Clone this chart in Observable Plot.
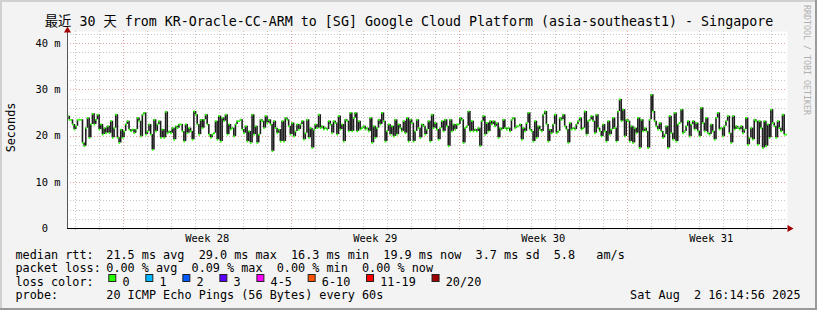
<!DOCTYPE html>
<html><head><meta charset="utf-8">
<script src="https://cdn.jsdelivr.net/npm/d3@7"></script>
<script src="https://cdn.jsdelivr.net/npm/@observablehq/plot@0.6"></script>
<style>
html,body{margin:0;padding:0;background:#f3f3f3;}
#wrap{position:relative;width:817px;height:310px;background:#f3f3f3;overflow:hidden;}
#wrap svg{position:absolute;left:0;top:0;}
.b{position:absolute;}
</style></head>
<body><div id="wrap"></div>
<script>
// ---- data ----
const titleText = "最近 30 天 from KR-Oracle-CC-ARM to [SG] Google Cloud Platform (asia-southeast1) - Singapore";
const startTime = Date.UTC(2025, 6, 3, 16, 14, 56);
const endTime = Date.UTC(2025, 7, 2, 16, 14, 56);
const weekLabels = ["Week 28", "Week 29", "Week 30", "Week 31"];
const weekStartDays = ["2025-07-06", "2025-07-13", "2025-07-20", "2025-07-27"];
const yTicks = [0, 10, 20, 30, 40];
const yTickLabels = ["0\u00a0\u00a0", "10 m", "20 m", "30 m", "40 m"];
// median rtt (ms), in time order, one value per ~1.7 px column
const seg1 = [24.3,23.5,23.5,22.5,21.4,22.1,23.5,23.5,23.5,18.5,17.8,21.7,23.9,19.6,22.5,24.8,22.5,23.5,24.6,21.4,22.5,20.3,21.7,20.6,22.1,20.6,23.2,19.6,21.7,24.6,19.6,18.5,21.4,19.6,21.0,22.5,23.2,21.4,21.0,21.4,20.6,21.4,23.9,23.2,19.9,24.6,25.0,20.3,21.0,22.5,20.3,17.0,23.5,21.0,22.5,23.2,19.6,21.4,19.6,25.2,20.6,21.0,20.6,21.7,19.2,22.1,21.7,22.5,22.5,21.0,18.8,22.5,20.6,21.7,21.0,19.2,25.3,24.6,22.5,20.3,23.5,21.7,23.5,24.6,22.5,20.3,19.6,20.3];
const seg2 = [20.6,23.2,19.2,24.3,18.8,23.9,23.2,24.6,20.3,22.5,21.4,21.7,19.9,22.5,23.2,23.2,23.5,21.4,20.6,22.1,18.8,21.0,18.5,24.6,20.3,22.1,18.5,20.3,23.5,23.2,21.7,24.3,22.8,23.5,22.5,16.7,23.2,21.7,20.6,21.4,18.8,23.2,18.8,23.9,23.5,22.1,20.3,22.8,19.9,21.0,22.5,21.4,22.5,23.2,19.2,20.6,23.5,19.6,21.7,17.4,21.4,22.5,21.7,24.6,21.7,22.1,21.4,21.7,21.4,23.2,22.5,20.6,23.2,22.8,20.3,24.3,21.4,22.5,18.8,23.5,23.2,21.0,25.0,21.0,23.9,25.0];
const seg3 = [21.0,23.2,21.4,21.7,22.1,21.4,21.7,21.0,23.9,18.5,22.1,19.6,21.7,23.5,22.5,25.0,23.2,18.8,21.0,22.5,20.3,22.1,19.9,23.5,20.3,22.5,21.7,21.0,23.2,20.6,23.9,18.8,23.5,22.8,18.8,21.0,23.5,21.7,19.6,22.5,22.1,20.3,21.4,23.2,18.8,24.6,21.7,22.8,21.4,19.2,21.7,23.2,21.0,23.5,22.1,17.8,23.5,21.0,22.5,21.4,22.5,22.5,23.9,23.5,18.5,21.7,22.1,25.3,21.0,23.2,21.0,21.4,21.0,21.7,17.8,23.2,24.3,20.3,22.8,21.0,23.2,22.5,23.2,22.1,22.8,19.6,21.7];
const seg4 = [21.4,23.5,21.7,21.4,21.7,21.0,23.5,23.9,21.7,22.1,22.1,22.5,19.2,21.7,21.0,22.8,25.0,21.4,21.0,18.8,23.2,19.6,22.1,21.4,21.0,24.6,25.3,22.5,18.8,21.4,20.6,22.5,24.6,20.6,21.0,23.9,23.5,24.6,22.1,21.4,18.5,22.8,21.4,21.7,21.4,22.5,23.2,23.9,21.4,21.7,25.3,20.3,23.2,23.5,24.3,23.2,20.6,24.6,21.7,21.0,19.9,22.5,21.0,18.8,23.2,20.3,21.4,23.9,21.7,18.8,25.3,27.9,23.2,25.7,19.9,23.5,23.2,18.8,22.1,18.5,21.7,20.6,23.9,17.4,23.5,21.0];
const seg5 = [21.7,21.0,17.4,23.5,28.9,25.3,23.2,22.1,21.4,22.8,21.0,19.6,20.3,22.1,17.4,24.3,20.6,19.2,25.0,18.8,22.5,22.8,25.7,20.6,21.0,22.1,23.2,19.9,22.5,23.2,21.4,22.8,21.0,19.9,26.1,22.8,21.0,23.9,20.6,20.3,22.5,21.0,19.2,23.9,25.0,21.4,21.7,19.9,22.1,23.2,24.3,20.6,18.5,24.3,21.4,22.1,21.7,21.4,22.1,20.6,21.4,23.9,18.1,19.6,21.7,19.2,23.5,23.2,18.1,23.2,21.7,17.4,23.2,17.8,22.5,19.6,25.7,22.8,22.1,19.6,23.2,21.7,21.0,24.6,20.3,20.3];
const rttLine = "21.5 ms avg  29.0 ms max  16.3 ms min  19.9 ms now  3.7 ms sd  5.8   am/s";
const lossLine = "0.00 % avg  0.09 % max  0.00 % min  0.00 % now";
const lossLabels = ["0", "1", "2", "3", "4-5", "6-10", "11-19", "20/20"];
const lossColors = ["#26ff00", "#00b8ff", "#0059ff", "#5e00ff", "#ff00ff", "#ff5500", "#ff0000", "#a10000"];
const probeText = "20 ICMP Echo Pings (56 Bytes) every 60s";
const dateText = "Sat Aug  2 16:14:56 2025";
const watermark = "RRDTOOL / TOBI OETIKER";

// ---- build ----
const start = new Date(startTime), end = new Date(endTime);
const medianMs = [...seg1, ...seg2, ...seg3, ...seg4, ...seg5];
const N = medianMs.length;
const step = (endTime - startTime) / N;
const pts = medianMs.map((v, i) => ({
  t0: new Date(startTime + i * step), t1: new Date(startTime + (i + 1) * step),
  v, prev: i ? medianMs[i - 1] : v
}));
const weekStarts = weekStartDays.map(d => new Date(d + "T00:00:00Z"));
const weekCenters = weekStarts.map(d => new Date(+d + 3.5 * 864e5));
const weekLabelMap = new Map(weekCenters.map((d, i) => [+d, weekLabels[i]]));
const yLabelMap = new Map(yTicks.map((d, i) => [d, yTickLabels[i]]));
const allDays = d3.utcDay.range(start, end);
const dayLines = allDays.filter(d => d.getUTCDay() !== 0);
const yMax = 42.6;
const minorY = d3.range(2, yMax, 2).filter(d => d % 10 !== 0);
const majorY = [10, 20, 30, 40];
const grid = {strokeDasharray: "1,2", shapeRendering: "crispEdges"};

const chart = Plot.plot({
  width: 817, height: 310,
  marginLeft: 67, marginRight: 30, marginTop: 31, marginBottom: 82,
  style: {background: "transparent", fontFamily: "'DejaVu Sans Mono', monospace", fontSize: "10.4px", color: "#000", overflow: "visible"},
  x: {type: "utc", domain: [start, end]},
  y: {domain: [0, yMax]},
  marks: [
    Plot.frame({fill: "#fff", stroke: null}),
    Plot.ruleY(minorY, {stroke: "#c8c8c8", ...grid}),
    Plot.ruleX(dayLines, {stroke: "#c8c8c8", ...grid}),
    Plot.ruleY(majorY, {stroke: "#e6a0a0", ...grid}),
    Plot.ruleX(weekStarts, {stroke: "#e6a0a0", ...grid}),
    Plot.ruleX(pts.slice(1), {x: "t0", y1: "prev", y2: "v", stroke: "#1e1e1e", strokeWidth: 1.6}),
    Plot.ruleY(pts, {y: "v", x1: "t0", x2: "t1", stroke: "#26ff00", strokeWidth: 1.8}),
    Plot.axisY({ticks: yTicks, tickFormat: d => yLabelMap.get(d), tickSize: 0, tickPadding: 7}),
    Plot.axisX({ticks: weekCenters, tickFormat: d => weekLabelMap.get(+d), tickSize: 0, tickPadding: 6}),
    Plot.axisX({ticks: allDays, tickFormat: () => "", tickSize: 2, stroke: "#aaa"}),
    Plot.ruleX([start], {stroke: "#555", shapeRendering: "crispEdges"}),
    Plot.ruleY([0], {stroke: "#000", shapeRendering: "crispEdges"}),
    Plot.dot([end], {x: d => d, y: () => 0, symbol: "triangle", rotate: 90, r: 2.6, fill: "#a00000", stroke: null, dx: 2}),
    Plot.dot([start], {x: d => d, y: () => yMax, symbol: "triangle", r: 2.6, fill: "#a00000", stroke: null, dy: -1})
  ]
});
const wrap = document.getElementById("wrap");
wrap.appendChild(chart);

// ---- text overlay (title, unit label, legend) ----
const keep = s => s.replace(/ /g, "\u00a0");
const ov = d3.select(wrap).append("svg").attr("width", 817).attr("height", 310)
  .style("font-family", "'DejaVu Sans Mono', 'Noto Sans CJK SC', monospace");
ov.append("text").attr("x", 409).attr("y", 25.5).attr("text-anchor", "middle")
  .attr("font-size", 13.3).attr("fill", "#000").text(titleText);
ov.append("text").attr("transform", "translate(14.5,127.5) rotate(-90)").attr("text-anchor", "middle")
  .attr("font-size", 11.8).attr("fill", "#000").text("Seconds");
const rows = [["median rtt:", rttLine, 258.5], ["packet loss:", lossLine, 272], ["loss color:", "", 285.7], ["probe:", probeText, 299.3]];
rows.forEach(([lab, val, y]) => {
  ov.append("text").attr("x", 15.5).attr("y", y).attr("font-size", 11.8).attr("fill", "#000").text(lab);
  if (val) ov.append("text").attr("x", 106.3).attr("y", y).attr("font-size", 11.8).attr("fill", "#000").text(keep(val));
});
let lx = 108.3;
lossLabels.forEach((lab, i) => {
  ov.append("rect").attr("x", lx + 0.5).attr("y", 274.5).attr("width", 7).attr("height", 7)
    .attr("fill", lossColors[i]).attr("stroke", "#222").attr("stroke-width", 1);
  ov.append("text").attr("x", lx + 14.2).attr("y", 285.7).attr("font-size", 11.8).attr("fill", "#000").text(lab);
  lx += (lab.length + 4.2) * 7.12;
});
ov.append("text").attr("x", 800.5).attr("y", 299.3).attr("text-anchor", "end")
  .attr("font-size", 11.8).attr("fill", "#000").text(keep(dateText));
ov.append("text").attr("transform", "translate(803.5,5) rotate(90)")
  .attr("font-size", 8.3).attr("fill", "#b0b0b0").text(watermark);
// 3D border
[["left:0;top:0;width:817px;height:2px;background:#d0d0d0"],
 ["left:0;top:0;width:2px;height:310px;background:#d0d0d0"],
 ["right:0;top:0;width:2px;height:310px;background:#9a9a9a"],
 ["left:0;bottom:0;width:817px;height:2px;background:#9a9a9a"]].forEach(([s]) => {
  const d = document.createElement("div"); d.className = "b"; d.style.cssText = s; wrap.appendChild(d);
});
</script></body></html>
